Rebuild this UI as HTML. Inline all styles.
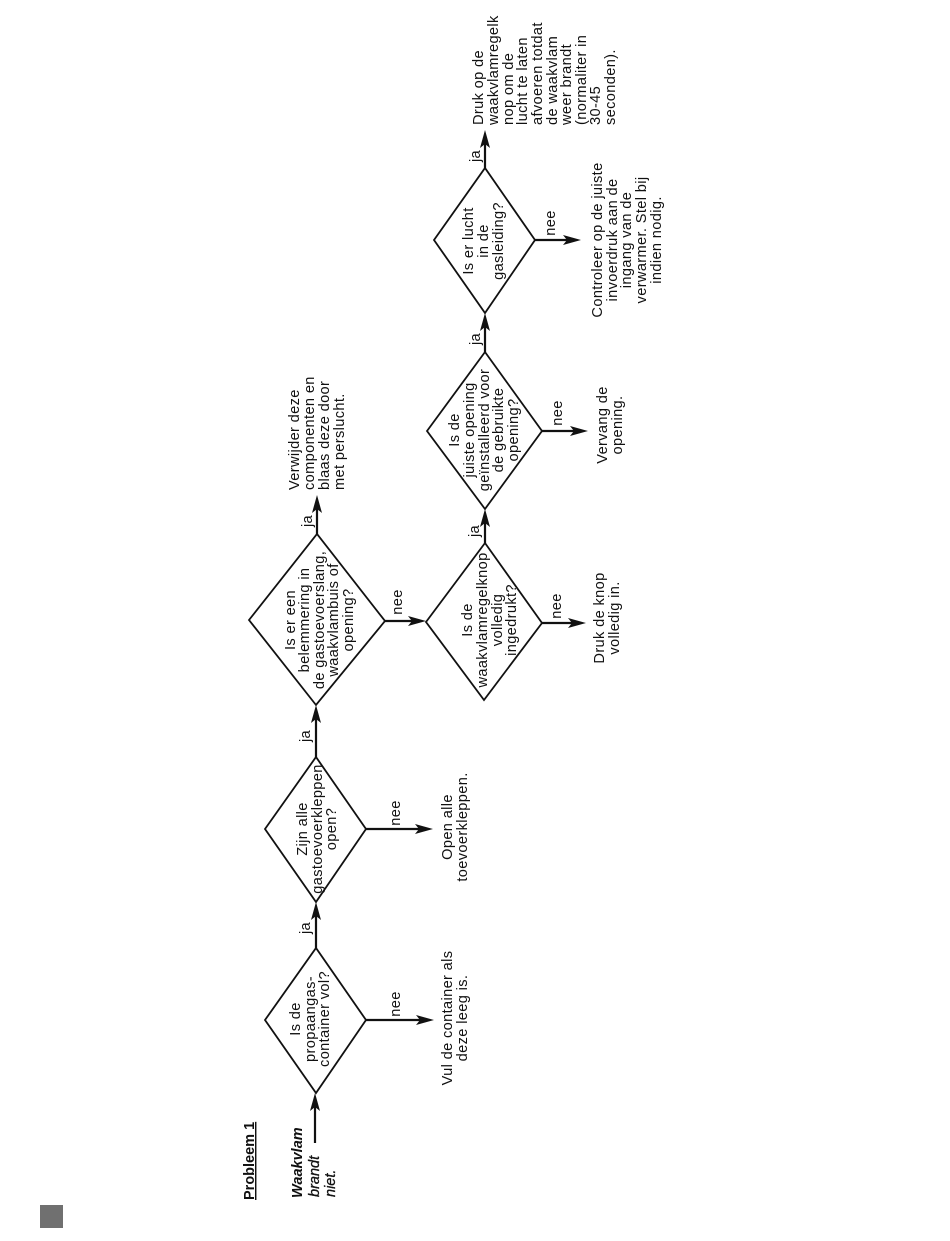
<!DOCTYPE html>
<html>
<head>
<meta charset="utf-8">
<style>
html,body{margin:0;padding:0;background:#fff;width:950px;height:1241px;overflow:hidden}
svg{display:block}
text{font-family:"Liberation Sans",sans-serif;font-size:14.6px;letter-spacing:.36px;fill:#111}
.m{text-anchor:middle}
.s{text-anchor:start}
.d{fill:none;stroke:#111;stroke-width:1.8}
.l{stroke:#111;stroke-width:2.2;fill:none}
.a{fill:#111}
</style>
</head>
<body>
<svg width="950" height="1241" viewBox="0 0 950 1241" xmlns="http://www.w3.org/2000/svg">
<rect x="40" y="1205" width="23" height="23" fill="#707070"/>

<polygon class="d" points="265,1020 316,948 366,1020 316,1093"/>
<polygon class="d" points="265,829 316,757 366,829 316,902"/>
<polygon class="d" points="249,620 317,534 385,621 316,705"/>
<polygon class="d" points="426,622 485,543 542,623 484,700"/>
<polygon class="d" points="427,431 485,352 542,431 485,509"/>
<polygon class="d" points="434,240 485,168 535,240 485,313"/>

<!-- vertical connectors -->
<path class="l" d="M315,1143V1105M316,948V914M316,757V717M317,534V507M485,543V521M485,352V325M485,168V142"/>
<polygon class="a" points="315,1093 320,1111 315,1107 310,1111"/>
<polygon class="a" points="316,902 321,920 316,916 311,920"/>
<polygon class="a" points="316,705 321,723 316,719 311,723"/>
<polygon class="a" points="317,495 322,513 317,509 312,513"/>
<polygon class="a" points="485,509 490,527 485,523 480,527"/>
<polygon class="a" points="485,313 490,331 485,327 480,331"/>
<polygon class="a" points="485,130 490,148 485,144 480,148"/>

<!-- horizontal connectors -->
<path class="l" d="M366,1020H424M366,829H423M385,621H416M542,623H576M542,431H578M535,240H571"/>
<polygon class="a" points="434,1020 416,1015 420,1020 416,1025"/>
<polygon class="a" points="433,829 415,824 419,829 415,834"/>
<polygon class="a" points="426,621 408,616 412,621 408,626"/>
<polygon class="a" points="586,623 568,618 572,623 568,628"/>
<polygon class="a" points="588,431 570,426 574,431 570,436"/>
<polygon class="a" points="581,240 563,235 567,240 563,245"/>

<!-- start labels -->
<text class="s" transform="translate(254,1200) rotate(-90)" font-weight="bold" text-decoration="underline" style="font-size:14.5px;letter-spacing:0">Probleem 1</text>
<text class="s" transform="translate(302,1198) rotate(-90)" font-weight="bold" font-style="italic" style="font-size:14.5px;letter-spacing:0">Waakvlam</text>
<text class="s" transform="translate(319,1197) rotate(-90)" font-style="italic" style="font-size:14.5px;letter-spacing:0;stroke:#111;stroke-width:.3">brandt</text>
<text class="s" transform="translate(335,1197) rotate(-90)" font-style="italic" style="font-size:14.5px;letter-spacing:0;stroke:#111;stroke-width:.3">niet.</text>

<!-- diamond 1 -->
<text class="m" transform="translate(300,1019) rotate(-90)">Is de</text>
<text class="m" transform="translate(315,1019) rotate(-90)">propaangas-</text>
<text class="m" transform="translate(329,1019) rotate(-90)">container vol?</text>
<!-- diamond 2 -->
<text class="m" transform="translate(307,829) rotate(-90)">Zijn alle</text>
<text class="m" transform="translate(322,829) rotate(-90)">gastoevoerkleppen</text>
<text class="m" transform="translate(336,829) rotate(-90)">open?</text>
<!-- diamond 3 -->
<text class="m" transform="translate(295,620) rotate(-90)">Is er een</text>
<text class="m" transform="translate(309,620) rotate(-90)">belemmering in</text>
<text class="m" transform="translate(324,620) rotate(-90)">de gastoevoerslang,</text>
<text class="m" transform="translate(338,620) rotate(-90)">waakvlambuis of</text>
<text class="m" transform="translate(353,620) rotate(-90)">opening?</text>
<!-- diamond 4 -->
<text class="m" transform="translate(472,620) rotate(-90)">Is de</text>
<text class="m" transform="translate(487,620) rotate(-90)">waakvlamregelknop</text>
<text class="m" transform="translate(502,620) rotate(-90)">volledig</text>
<text class="m" transform="translate(516,620) rotate(-90)">ingedrukt?</text>
<!-- diamond 5 -->
<text class="m" transform="translate(459,430) rotate(-90)">Is de</text>
<text class="m" transform="translate(474,430) rotate(-90)">juiste opening</text>
<text class="m" transform="translate(489,430) rotate(-90)">geïnstalleerd voor</text>
<text class="m" transform="translate(503,430) rotate(-90)">de gebruikte</text>
<text class="m" transform="translate(518,430) rotate(-90)">opening?</text>
<!-- diamond 6 -->
<text class="m" transform="translate(473,241) rotate(-90)">Is er lucht</text>
<text class="m" transform="translate(488,241) rotate(-90)">in de</text>
<text class="m" transform="translate(503,241) rotate(-90)">gasleiding?</text>

<!-- ja -->
<text class="m" transform="translate(310,928) rotate(-90)">ja</text>
<text class="m" transform="translate(310,736) rotate(-90)">ja</text>
<text class="m" transform="translate(312,521) rotate(-90)">ja</text>
<text class="m" transform="translate(479,531) rotate(-90)">ja</text>
<text class="m" transform="translate(480,339) rotate(-90)">ja</text>
<text class="m" transform="translate(480,156) rotate(-90)">ja</text>
<!-- nee -->
<text class="m" transform="translate(400,1004) rotate(-90)">nee</text>
<text class="m" transform="translate(400,813) rotate(-90)">nee</text>
<text class="m" transform="translate(402,602) rotate(-90)">nee</text>
<text class="m" transform="translate(561,606) rotate(-90)">nee</text>
<text class="m" transform="translate(562,413) rotate(-90)">nee</text>
<text class="m" transform="translate(555,223) rotate(-90)">nee</text>

<!-- results -->
<text class="m" transform="translate(452,1018) rotate(-90)">Vul de container als</text>
<text class="m" transform="translate(467,1018) rotate(-90)">deze leeg is.</text>

<text class="m" transform="translate(452,827) rotate(-90)">Open alle</text>
<text class="m" transform="translate(467,827) rotate(-90)">toevoerkleppen.</text>

<text class="s" transform="translate(299,490) rotate(-90)">Verwijder deze</text>
<text class="s" transform="translate(314,490) rotate(-90)">componenten en</text>
<text class="s" transform="translate(329,490) rotate(-90)">blaas deze door</text>
<text class="s" transform="translate(344,490) rotate(-90)">met perslucht.</text>

<text class="m" transform="translate(604,618) rotate(-90)">Druk de knop</text>
<text class="m" transform="translate(619,618) rotate(-90)">volledig in.</text>

<text class="m" transform="translate(607,425) rotate(-90)">Vervang de</text>
<text class="m" transform="translate(622,425) rotate(-90)">opening.</text>

<text class="m" transform="translate(602,240) rotate(-90)">Controleer op de juiste</text>
<text class="m" transform="translate(617,240) rotate(-90)">invoerdruk aan de</text>
<text class="m" transform="translate(631,240) rotate(-90)">ingang van de</text>
<text class="m" transform="translate(646,240) rotate(-90)">verwarmer. Stel bij</text>
<text class="m" transform="translate(661,240) rotate(-90)">indien nodig.</text>

<text class="s" transform="translate(483,125) rotate(-90)">Druk op de</text>
<text class="s" transform="translate(498,125) rotate(-90)">waakvlamregelk</text>
<text class="s" transform="translate(513,125) rotate(-90)">nop om de</text>
<text class="s" transform="translate(527,125) rotate(-90)">lucht te laten</text>
<text class="s" transform="translate(542,125) rotate(-90)">afvoeren totdat</text>
<text class="s" transform="translate(557,125) rotate(-90)">de waakvlam</text>
<text class="s" transform="translate(571,125) rotate(-90)">weer brandt</text>
<text class="s" transform="translate(586,125) rotate(-90)">(normaliter in</text>
<text class="s" transform="translate(600,125) rotate(-90)">30-45</text>
<text class="s" transform="translate(615,125) rotate(-90)">seconden).</text>
</svg>
</body>
</html>
